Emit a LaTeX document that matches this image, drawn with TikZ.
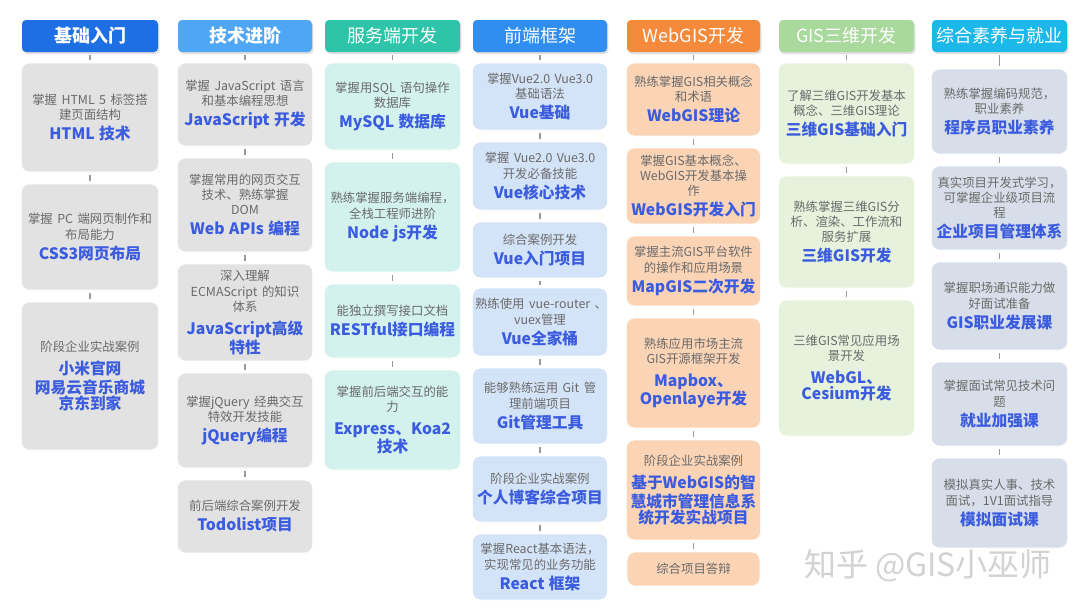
\documentclass[tikz,border=0pt]{standalone}
\usepackage{fontspec}
\setmainfont{Noto Sans CJK SC}
\usetikzlibrary{shadows}
\definecolor{h1}{HTML}{1E6FE3}\definecolor{h2}{HTML}{4FA6F4}\definecolor{h3}{HTML}{2EC4A9}
\definecolor{h4}{HTML}{2F8EF0}\definecolor{h5}{HTML}{F68A3C}\definecolor{h6}{HTML}{A9D99C}
\definecolor{h7}{HTML}{1BB8E9}
\definecolor{f1}{HTML}{E2E2E2}\definecolor{f3}{HTML}{D3F2EE}\definecolor{f4}{HTML}{D4E4F8}
\definecolor{f5}{HTML}{FBD4B6}\definecolor{f6}{HTML}{E6F2DC}\definecolor{f7}{HTML}{D8DEE9}
\definecolor{dg}{HTML}{6A6A6A}\definecolor{tb}{HTML}{3B5CDF}
\newcommand\dsc{\fontsize{9.3}{11.5}\selectfont\color{dg}}
\newcommand\ttl{\fontsize{11.8}{14.5}\selectfont\bfseries\color{tb}}
\tikzset{x=0.75pt,y=-0.75pt,
 box/.style={rounded corners=6pt,draw=white,line width=0.6pt,align=center,inner sep=2pt,fill=#1},
 hd/.style={rounded corners=3pt,fill=#1,text=white,font=\fontsize{13.5}{16}\selectfont,
   drop shadow={opacity=0.25,shadow xshift=1pt,shadow yshift=-1.5pt}},
 con/.style={draw=gray!80,line width=1.2pt}}
% name, x1,y1,x2,y2, fill, desc, title
\newcommand\bx[8]{\node[box=#6,minimum width={(#4-#2)*0.75pt},minimum height={(#5-#3)*0.75pt},
 text width={(#4-#2-4)*0.75pt}] (#1) at ({(#2+#4)/2},{(#3+#5)/2}) {\dsc #7\par\vspace{3pt}\ttl #8};}
\newcommand\hdr[7]{\node[hd=#6,minimum width={(#4-#2)*0.75pt},minimum height={(#5-#3)*0.75pt}] (#1) at ({(#2+#4)/2},{(#3+#5)/2}) {#7};}
\begin{document}
\begin{tikzpicture}
\useasboundingbox (0,0) rectangle (1080,612);
\fill[white] (0,0) rectangle (1080,612);
\hdr{H1}{22}{20}{158}{52}{h1}{\bfseries 基础入门}
\hdr{H2}{178}{20}{312}{52}{h2}{\bfseries 技术进阶}
\hdr{H3}{325}{20}{460}{52}{h3}{服务端开发}
\hdr{H4}{473}{20}{607}{52}{h4}{前端框架}
\hdr{H5}{627}{20}{760}{52}{h5}{WebGIS开发}
\hdr{H6}{779}{20}{914}{52}{h6}{GIS三维开发}
\hdr{H7}{932}{20}{1067}{52}{h7}{综合素养与就业}
% col1
\bx{a1}{22}{63}{158}{172}{f1}{掌握 HTML 5 标签搭\\建页面结构}{HTML 技术}
\bx{a2}{22}{184}{158}{290}{f1}{掌握 PC 端网页制作和\\布局能力}{CSS3网页布局}
\bx{a3}{22}{302}{158}{450}{f1}{阶段企业实战案例}{小米官网\\网易云音乐商城\\京东到家}
% col2
\bx{b1}{178}{63}{312}{146}{f1}{掌握 JavaScript 语言\\和基本编程思想}{JavaScript 开发}
\bx{b2}{178}{158}{312}{252}{f1}{掌握常用的网页交互\\技术、熟练掌握\\DOM}{Web APIs 编程}
\bx{b3}{178}{264}{312}{361}{f1}{深入理解\\ECMAScript 的知识\\体系}{JavaScript高级\\特性}
\bx{b4}{178}{373}{312}{468}{f1}{掌握jQuery 经典交互\\特效开发技能}{jQuery编程}
\bx{b5}{178}{480}{312}{553}{f1}{前后端综合案例开发}{Todolist项目}
% col3
\bx{c1}{325}{63}{460}{150}{f3}{掌握用SQL 语句操作\\数据库}{MySQL 数据库}
\bx{c2}{325}{162}{460}{272}{f3}{熟练掌握服务端编程，\\全栈工程师进阶}{Node js开发}
\bx{c3}{325}{284}{460}{358}{f3}{能独立撰写接口文档}{RESTful接口编程}
\bx{c4}{325}{370}{460}{470}{f3}{掌握前后端交互的能\\力}{Express、Koa2\\技术}
% col4
\bx{d1}{473}{63}{607}{130}{f4}{掌握Vue2.0 Vue3.0\\基础语法}{Vue基础}
\bx{d2}{473}{142}{607}{210}{f4}{掌握 Vue2.0 Vue3.0\\开发必备技能}{Vue核心技术}
\bx{d3}{473}{222}{607}{278}{f4}{综合案例开发}{Vue入门项目}
\bx{d4}{473}{288}{607}{356}{f4}{\mbox{熟练使用 vue-router 、}\\vuex管理}{Vue全家桶}
\bx{d5}{473}{368}{607}{444}{f4}{能够熟练运用 Git 管\\理前端项目}{Git管理工具}
\bx{d6}{473}{456}{607}{522}{f4}{阶段企业实战案例}{个人博客综合项目}
\bx{d7}{473}{534}{607}{600}{f4}{掌握React基本语法，\\实现常见的业务功能}{React 框架}
% col5
\bx{e1}{627}{63}{760}{136}{f5}{熟练掌握GIS相关概念\\和术语}{WebGIS理论}
\bx{e2}{627}{148}{760}{224}{f5}{掌握GIS基本概念、\\WebGIS开发基本操\\作}{WebGIS开发入门}
\bx{e3}{627}{236}{760}{306}{f5}{掌握主流GIS平台软件\\的操作和应用场景}{MapGIS二次开发}
\bx{e4}{627}{318}{760}{428}{f5}{熟练应用市场主流\\GIS开源框架开发}{Mapbox、\\Openlaye开发}
\bx{e5}{627}{440}{760}{540}{f5}{阶段企业实战案例}{基于WebGIS的智\\慧城市管理信息系\\统开发实战项目}
\node[box=f5,minimum width={133*0.75pt},minimum height={34*0.75pt}] (e6) at (693.5,569) {\dsc 综合项目答辩};
% col6
\bx{g1}{779}{63}{914}{164}{f6}{了解三维GIS开发基本\\概念、三维GIS理论}{三维GIS基础入门}
\bx{g2}{779}{176}{914}{288}{f6}{熟练掌握三维GIS分\\析、渲染、工作流和\\服务扩展}{三维GIS开发}
\bx{g3}{779}{300}{914}{436}{f6}{三维GIS常见应用场\\景开发}{WebGL、\\Cesium开发}
% col7
\bx{k1}{932}{69}{1067}{154}{f7}{熟练掌握编码规范，\\职业素养}{程序员职业素养}
\bx{k2}{932}{166}{1067}{250}{f7}{真实项目开发式学习，\\可掌握企业级项目流\\程}{企业项目管理体系}
\bx{k3}{932}{262}{1067}{350}{f7}{掌握职场通识能力做\\好面试准备}{GIS职业发展课}
\bx{k4}{932}{362}{1067}{446}{f7}{掌握面试常见技术问\\题}{就业加强课}
\bx{k5}{932}{458}{1067}{548}{f7}{模拟真实人事、技术\\面试，1V1面试指导}{模拟面试课}
% connectors
\foreach \p/\q in {H1/a1,a1/a2,a2/a3,H2/b1,b1/b2,b2/b3,b3/b4,b4/b5,H3/c1,c1/c2,c2/c3,c3/c4,
 H4/d1,d1/d2,d2/d3,d3/d4,d4/d5,d5/d6,d6/d7,H5/e1,e1/e2,e2/e3,e3/e4,e4/e5,e5/e6,
 H6/g1,g1/g2,g2/g3,H7/k1,k1/k2,k2/k3,k3/k4,k4/k5}
 \draw[con] ([yshift=-2pt]\p.south) -- ([yshift=2pt]\q.north);
\node[text=gray!35,font=\fontsize{24}{28}\selectfont] (wm) at (928,566) {知乎 @GIS小巫师};
\end{tikzpicture}
\end{document}
